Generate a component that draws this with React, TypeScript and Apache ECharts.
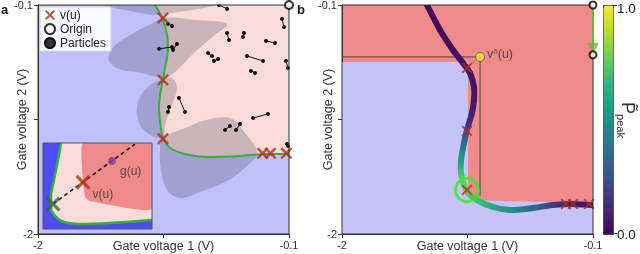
import React, { useEffect, useRef } from 'react';
import * as echarts from 'echarts';

// ---------- axes ----------
const AXIS_MIN = -2;
const AXIS_MAX = -0.1;
const TICK_VALUES = [-2, -1.05, -0.1];
const LABEL_VALUES = [-2, -0.1];
const LABEL_TEXT = ['-2', '-0.1'];

// ---------- panel a ----------
const BOUNDARY_A = [
  [-1.114, -0.1], [-1.061, -0.207], [-1.023, -0.348], [-1.016, -0.473], [-1.039, -0.622],
  [-1.054, -0.722], [-1.076, -0.846], [-1.084, -0.954], [-1.076, -1.07], [-1.054, -1.203],
  [-1.001, -1.286], [-0.887, -1.336], [-0.721, -1.361], [-0.471, -1.353], [-0.266, -1.336],
  [-0.1, -1.336],
];
const BLOB_1 = [[-1.493, -0.1], [-1.304, -0.149], [-1.114, -0.182], [-0.925, -0.157], [-0.66, -0.1]];
const BLOB_2 = [
  [-1.054, -0.207], [-0.812, -0.224], [-0.569, -0.257], [-0.66, -0.348], [-0.812, -0.489],
  [-0.963, -0.655], [-1.054, -0.705], [-1.228, -0.66], [-1.39, -0.63], [-1.465, -0.556],
  [-1.43, -0.45], [-1.304, -0.35], [-1.152, -0.262],
];
const BLOB_3 = [
  [-1.054, -0.722], [-0.986, -0.705], [-0.948, -0.788], [-0.986, -0.929], [-1.039, -1.095],
  [-1.054, -1.203], [-1.152, -1.178], [-1.228, -1.095], [-1.251, -0.954], [-1.205, -0.821],
  [-1.114, -0.738],
];
const BLOB_4 = [
  [-1.054, -1.203], [-0.887, -1.12], [-0.698, -1.045], [-0.531, -1.045], [-0.433, -1.162],
  [-0.342, -1.328], [-0.433, -1.452], [-0.584, -1.568], [-0.774, -1.651], [-0.925, -1.701],
  [-1.023, -1.635], [-1.069, -1.469], [-1.076, -1.303],
];
const CROSSES_A = [[-1.054, -0.207], [-1.054, -0.722], [-1.054, -1.21], [-0.3, -1.33], [-0.24, -1.33], [-0.12, -1.33]];
const ORIGIN_A = [[-0.1, -0.1]];
const PARTICLES = [
  [[-0.63, -0.1], [-0.569, -0.132]],
  [[-1.016, -0.257], [-0.986, -0.274]],
  [[-1.084, -0.464], [-0.986, -0.448]],
  [[-0.978, -0.473], [-0.948, -0.423]],
  [[-0.569, -0.332], [-0.554, -0.39]],
  [[-0.441, -0.332], [-0.448, -0.365]],
  [[-0.153, -0.215], [-0.138, -0.282]],
  [[-0.274, -0.398], [-0.206, -0.415]],
  [[-0.713, -0.498], [-0.683, -0.523]],
  [[-0.668, -0.564], [-0.637, -0.548]],
  [[-0.418, -0.523], [-0.297, -0.564]],
  [[-0.388, -0.647], [-0.357, -0.664]],
  [[-0.123, -0.564], [-0.108, -0.622]],
  [[-0.933, -0.871], [-0.887, -0.987]],
  [[-1.008, -0.946], [-1.016, -0.987]],
  [[-0.372, -1.037], [-0.259, -1.004]],
  [[-0.584, -1.137], [-0.547, -1.104]],
  [[-0.501, -1.137], [-0.471, -1.087]],
  [[-0.115, -1.253], [-0.108, -1.27]],
];

// ---------- inset (schematic, unit square) ----------
const INSET_BOUNDARY = [
  [0.165, 1], [0.138, 0.802], [0.101, 0.57], [0.073, 0.372], [0.073, 0.244], [0.119, 0.14],
  [0.193, 0.081], [0.339, 0.058], [0.615, 0.07], [1, 0.105],
];
const INSET_RED = [[0.367, 1], [1, 1], [1, 0.233], [0.431, 0.326], [0.385, 0.372], [0.376, 0.453]];
const INSET_RAY = [[0.092, 0.291], [0.844, 0.988]];
const INSET_V = [[0.367, 0.545]];
const INSET_START = [[0.092, 0.291]];
const INSET_G = [[0.633, 0.79]];

// ---------- panel b ----------
const BLUE_B = [
  [-2, -0.572], [-1.046, -0.572], [-1.046, -1.676], [-1.016, -1.718], [-0.804, -1.726],
  [-0.35, -1.734], [-0.1, -1.726], [-0.1, -2], [-2, -2],
];
const GUIDE_B = [[-2, -0.531], [-0.955, -0.531], [-0.955, -1.685]];
// [gate1, gate2, normalised peak]
const PATH_B = [
  [-1.357, -0.1, 0.02], [-1.258, -0.307, 0.02], [-1.16, -0.473, 0.03], [-1.084, -0.581, 0.04],
  [-1.031, -0.664, 0.05], [-1.001, -0.78, 0.05], [-1.001, -0.888, 0.06], [-1.016, -0.996, 0.08],
  [-1.054, -1.137, 0.2], [-1.076, -1.245, 0.33], [-1.099, -1.386, 0.55], [-1.099, -1.494, 0.7],
  [-1.076, -1.593, 0.78], [-1.046, -1.66, 0.75], [-0.978, -1.718, 0.7], [-0.857, -1.776, 0.6],
  [-0.728, -1.801, 0.5], [-0.554, -1.784, 0.33], [-0.403, -1.759, 0.18], [-0.274, -1.751, 0.08],
  [-0.1, -1.759, 0.05],
];
const CROSSES_B = [[-1.054, -0.622], [-1.054, -1.145], [-1.054, -1.635], [-0.304, -1.751], [-0.251, -1.751], [-0.13, -1.751]];
const SELECTED_B = [[-1.054, -1.635]];
const V_DELTA = [[-0.955, -0.531]];
const V_DELTA_LINK = [[-0.955, -0.531], [-1.05, -0.615]];
const ORIGINS_B = [[-0.1, -0.1], [-0.1, -0.514]];
const SHIFT_B = [[-0.1, -0.124], [-0.1, -0.492]];

const VIRIDIS = ['#440154', '#482878', '#3e4989', '#31688e', '#26828e', '#1f9e89', '#35b779', '#6ece58', '#b5de2b', '#fde725'];

const FONT = 'Liberation Sans, Arial, Helvetica, sans-serif';
const CROSS = 'path://M0,1.5L1.5,0L5,3.5L8.5,0L10,1.5L6.5,5L10,8.5L8.5,10L5,6.5L1.5,10L0,8.5L3.5,5Z';
const CROSS_THIN = 'path://M0,1.2L1.2,0L5,3.8L8.8,0L10,1.2L6.2,5L10,8.8L8.8,10L5,6.2L1.2,10L0,8.8L3.8,5Z';
const ARROW_HEAD = 'path://M0,0L10,0L5,10Z';
const CROSS_RED = '#b0301c';

function polygon(name: string, pts: number[][], grid: number, fill: string, z: number, smooth = 0, stroke?: string) {
  return {
    type: 'custom', name, xAxisIndex: grid, yAxisIndex: grid, z, silent: true, clip: true,
    data: pts,
    renderItem: (params: any, api: any) => {
      if (params.dataIndex !== 0) return null;
      return {
        type: 'polygon',
        shape: { points: pts.map((p) => api.coord(p)), smooth },
        style: { fill, stroke: stroke || 'none', lineWidth: 1 },
      };
    },
  };
}

function frame(name: string, grid: number, corners: number[][], z: number, color = '#333') {
  return {
    type: 'custom', name, xAxisIndex: grid, yAxisIndex: grid, z, silent: true, clip: false,
    data: corners,
    renderItem: (params: any, api: any) => {
      if (params.dataIndex !== 0) return null;
      const a = api.coord(corners[0]);
      const b = api.coord(corners[1]);
      return {
        type: 'rect',
        shape: { x: a[0], y: a[1], width: b[0] - a[0], height: b[1] - a[1] },
        style: { fill: 'none', stroke: color, lineWidth: 1 },
      };
    },
  };
}

function axes(grid: number, isX: boolean) {
  return {
    gridIndex: grid, type: 'value', min: AXIS_MIN, max: AXIS_MAX,
    name: isX ? 'Gate voltage 1 (V)' : 'Gate voltage 2 (V)',
    nameLocation: 'middle',
    nameMoveOverlap: false,
    nameGap: isX ? 5 : grid === 0 ? 10 : 8,
    nameTextStyle: { fontSize: 12.5, color: '#333', fontFamily: FONT },
    axisLine: { show: true, onZero: false, lineStyle: { color: '#333', width: 1 } },
    axisTick: { show: true, length: 4, customValues: TICK_VALUES, lineStyle: { color: '#333' } },
    axisLabel: {
      customValues: LABEL_VALUES, fontSize: 11, color: '#333', margin: 5, fontFamily: FONT,
      showMinLabel: true, showMaxLabel: true,
      formatter: (v: number) => {
        const i = LABEL_VALUES.findIndex((l) => Math.abs(l - v) < 1e-6);
        return i >= 0 ? LABEL_TEXT[i] : '';
      },
    },
    splitLine: { show: false },
  };
}

function buildOption() {
  const series: any[] = [
    // ---- panel a ----
    polygon('region a', [...BOUNDARY_A, [-0.1, -0.1]], 0, '#f8dcd9', 1),
    polygon('blob 1', BLOB_1, 0, 'rgba(60,60,80,0.24)', 2, 0.35),
    polygon('blob 2', BLOB_2, 0, 'rgba(60,60,80,0.24)', 2, 0.35),
    polygon('blob 3', BLOB_3, 0, 'rgba(60,60,80,0.24)', 2, 0.35),
    polygon('blob 4', BLOB_4, 0, 'rgba(60,60,80,0.24)', 2, 0.35),
    {
      type: 'line', name: 'boundary a', xAxisIndex: 0, yAxisIndex: 0, z: 3, data: BOUNDARY_A,
      smooth: 0.3, symbol: 'none', silent: true, lineStyle: { color: '#3aae3a', width: 2 },
    },
    {
      type: 'lines', name: 'Particles', coordinateSystem: 'cartesian2d', xAxisIndex: 0, yAxisIndex: 0, z: 4,
      symbol: ['circle', 'circle'], symbolSize: 4, silent: true,
      lineStyle: { color: '#111', width: 1, opacity: 1 },
      itemStyle: { color: '#111' },
      data: PARTICLES.map((c) => ({ coords: c })),
    },
    {
      type: 'scatter', name: 'v(u)', xAxisIndex: 0, yAxisIndex: 0, z: 5, data: CROSSES_A,
      symbol: CROSS, symbolSize: 12, itemStyle: { color: CROSS_RED }, clip: false,
    },
    {
      type: 'scatter', name: 'Origin', xAxisIndex: 0, yAxisIndex: 0, z: 12, data: ORIGIN_A,
      symbol: 'circle', symbolSize: 8, clip: false,
      itemStyle: { color: '#fff', borderColor: '#000', borderWidth: 2 },
    },
    // ---- inset ----
    polygon('inset bg', [[0, 0], [1, 0], [1, 1], [0, 1]], 2, '#4e4ef0', 6),
    polygon('inset region', [...INSET_BOUNDARY, [1, 1]], 2, '#f8dcd9', 7),
    polygon('inset red', INSET_RED, 2, '#f08a8a', 7, 0.15),
    {
      type: 'line', name: 'inset boundary', xAxisIndex: 2, yAxisIndex: 2, z: 8, data: INSET_BOUNDARY,
      smooth: 0.3, symbol: 'none', silent: true, lineStyle: { color: '#3aae3a', width: 2.5 },
    },
    {
      type: 'line', name: 'inset ray', xAxisIndex: 2, yAxisIndex: 2, z: 8, data: INSET_RAY,
      symbol: 'none', silent: true, lineStyle: { color: '#111', width: 1.5, type: [4, 3] },
    },
    {
      type: 'scatter', name: 'inset g', xAxisIndex: 2, yAxisIndex: 2, z: 9, data: INSET_G,
      symbol: 'circle', symbolSize: 8, itemStyle: { color: '#7a3c96' },
      label: { show: true, formatter: 'g(u)', position: 'right', distance: 4, offset: [0, 10], fontSize: 12, color: '#333', fontFamily: FONT },
    },
    {
      type: 'scatter', name: 'inset v', xAxisIndex: 2, yAxisIndex: 2, z: 9, data: INSET_V,
      symbol: CROSS, symbolSize: 15, itemStyle: { color: CROSS_RED },
      label: { show: true, formatter: 'v(u)', position: 'right', distance: 2, offset: [0, 12], fontSize: 12, color: '#333', fontFamily: FONT },
    },
    {
      type: 'scatter', name: 'inset start', xAxisIndex: 2, yAxisIndex: 2, z: 9, data: INSET_START,
      symbol: CROSS, symbolSize: 15, itemStyle: { color: '#2d6a2d' }, clip: false,
    },
    frame('inset frame', 2, [[0, 1], [1, 0]], 10, '#556'),
    frame('frame a', 0, [[AXIS_MIN, AXIS_MAX], [AXIS_MAX, AXIS_MIN]], 11),
    // ---- panel b ----
    polygon('blue b', BLUE_B, 1, '#c4c4f8', 1),
    {
      type: 'line', name: 'guide b', xAxisIndex: 1, yAxisIndex: 1, z: 2, data: GUIDE_B,
      symbol: 'none', silent: true, lineStyle: { color: '#444', width: 1 },
    },
    {
      type: 'custom', name: 'peak path', xAxisIndex: 1, yAxisIndex: 1, z: 3, clip: true, silent: true,
      data: PATH_B, dimensions: ['x', 'y', 'p'], encode: { x: 0, y: 1 },
      renderItem: (params: any, api: any) => {
        const i = params.dataIndex;
        const n = PATH_B.length;
        if (i >= n - 1) return null;
        const P = (k: number) => {
          const kk = Math.max(0, Math.min(n - 1, k));
          return api.coord([PATH_B[kk][0], PATH_B[kk][1]]);
        };
        const p0 = P(i - 1), p1 = P(i), p2 = P(i + 1), p3 = P(i + 2);
        const t = 1 / 6;
        const c1 = echarts.color.lerp(PATH_B[i][2], VIRIDIS) as string;
        const c2 = echarts.color.lerp(PATH_B[i + 1][2], VIRIDIS) as string;
        return {
          type: 'bezierCurve',
          shape: {
            x1: p1[0], y1: p1[1], x2: p2[0], y2: p2[1],
            cpx1: p1[0] + (p2[0] - p0[0]) * t, cpy1: p1[1] + (p2[1] - p0[1]) * t,
            cpx2: p2[0] - (p3[0] - p1[0]) * t, cpy2: p2[1] - (p3[1] - p1[1]) * t,
          },
          style: {
            fill: 'none', lineWidth: 6, lineCap: 'round',
            stroke: {
              type: 'linear', x: p1[0], y: p1[1], x2: p2[0] + 0.01, y2: p2[1] + 0.01, global: true,
              colorStops: [{ offset: 0, color: c1 }, { offset: 1, color: c2 }],
            },
          },
        };
      },
    },
    {
      type: 'line', name: 'v delta link', xAxisIndex: 1, yAxisIndex: 1, z: 4, data: V_DELTA_LINK,
      symbol: 'none', silent: true, lineStyle: { color: '#555', width: 1, type: 'dotted' },
    },
    {
      type: 'scatter', name: 'v(u) b', xAxisIndex: 1, yAxisIndex: 1, z: 5, data: CROSSES_B,
      symbol: CROSS_THIN, symbolSize: 11, itemStyle: { color: CROSS_RED }, clip: false,
    },
    {
      type: 'scatter', name: 'selected', xAxisIndex: 1, yAxisIndex: 1, z: 5, data: SELECTED_B,
      symbol: 'circle', symbolSize: 23, clip: false,
      itemStyle: { color: 'rgba(0,0,0,0)', borderColor: '#33ee22', borderWidth: 3 },
    },
    {
      type: 'scatter', name: 'v delta', xAxisIndex: 1, yAxisIndex: 1, z: 6, data: V_DELTA,
      symbol: 'circle', symbolSize: 9, clip: false,
      itemStyle: { color: '#f2e32a', borderColor: '#555', borderWidth: 1 },
      label: {
        show: true, position: 'right', distance: 2, offset: [0, -3],
        formatter: '{a|v}{b|δ}{a|(u)}',
        rich: {
          a: { fontSize: 12.5, color: '#333', fontFamily: FONT },
          b: { fontSize: 8, color: '#333', fontFamily: FONT, verticalAlign: 'top' },
        },
      },
    },
    {
      type: 'line', name: 'shift', xAxisIndex: 1, yAxisIndex: 1, z: 12, data: SHIFT_B,
      symbol: 'none', silent: true, clip: false,
      lineStyle: { color: '#6db33f', width: 2 },
    },
    {
      type: 'scatter', name: 'shift head', xAxisIndex: 1, yAxisIndex: 1, z: 12, data: [SHIFT_B[1]],
      symbol: ARROW_HEAD, symbolSize: [12, 11], symbolOffset: [0, -4], clip: false, silent: true,
      itemStyle: { color: '#6db33f' },
    },
    {
      type: 'scatter', name: 'origins b', xAxisIndex: 1, yAxisIndex: 1, z: 13, data: ORIGINS_B,
      symbol: 'circle', symbolSize: 7, clip: false,
      itemStyle: { color: '#fff', borderColor: '#000', borderWidth: 2 },
    },
    frame('frame b', 1, [[AXIS_MIN, AXIS_MAX], [AXIS_MAX, AXIS_MIN]], 11),
  ];

  const pathIndex = series.findIndex((s) => s.name === 'peak path');

  return {
    animation: false,
    textStyle: { fontFamily: FONT },
    grid: [
      { left: 38, top: 5, width: 251, height: 229, show: true, backgroundColor: '#c0c0fa', borderWidth: 0, outerBoundsMode: 'none', containLabel: false },
      { left: 342, top: 5, width: 251, height: 229, show: true, backgroundColor: '#f08b8b', borderWidth: 0, outerBoundsMode: 'none', containLabel: false },
      { left: 43, top: 143, width: 109, height: 86, show: false, outerBoundsMode: 'none', containLabel: false },
    ],
    xAxis: [axes(0, true), axes(1, true), { gridIndex: 2, type: 'value', min: 0, max: 1, show: false }],
    yAxis: [axes(0, false), axes(1, false), { gridIndex: 2, type: 'value', min: 0, max: 1, show: false }],
    legend: {
      left: 40, top: 7, orient: 'vertical', itemGap: 2, itemWidth: 10, itemHeight: 10,
      padding: [2, 5, 2, 4], backgroundColor: 'rgba(255,255,255,0.88)', borderColor: '#d8d8d8', borderWidth: 1,
      selectedMode: false, z: 20,
      textStyle: { fontSize: 12, color: '#222', fontFamily: FONT },
      data: [
        { name: 'v(u)', icon: CROSS, itemStyle: { color: CROSS_RED } },
        { name: 'Origin', icon: 'circle', itemStyle: { color: '#fff', borderColor: '#000', borderWidth: 2 } },
        { name: 'Particles', icon: 'circle', itemStyle: { color: '#333' } },
      ],
    },
    visualMap: {
      type: 'continuous', min: 0, max: 1, dimension: 2, seriesIndex: [pathIndex],
      inRange: { color: VIRIDIS }, orient: 'vertical', left: 603, top: 5,
      itemWidth: 10, itemHeight: 229, calculable: false, hoverLink: false,
      padding: 0, borderColor: '#333', borderWidth: 1, text: null,
    },
    graphic: [
      { type: 'text', left: 1, top: 3, style: { text: 'a', font: `bold 13px ${FONT}`, fill: '#111' } },
      { type: 'text', left: 297, top: 3, style: { text: 'b', font: `bold 13px ${FONT}`, fill: '#111' } },
      { type: 'line', shape: { x1: 613, y1: 5.5, x2: 617, y2: 5.5 }, style: { stroke: '#333', lineWidth: 1 } },
      { type: 'line', shape: { x1: 613, y1: 233.5, x2: 617, y2: 233.5 }, style: { stroke: '#333', lineWidth: 1 } },
      { type: 'text', x: 617, y: 8, style: { text: '1.0', font: `13.5px ${FONT}`, fill: '#222', textAlign: 'left', textVerticalAlign: 'middle' } },
      { type: 'text', x: 617, y: 234, style: { text: '0.0', font: `13.5px ${FONT}`, fill: '#222', textAlign: 'left', textVerticalAlign: 'middle' } },
      {
        type: 'text', x: 626, y: 120, rotation: -Math.PI / 2,
        style: {
          text: '{a|P\u0303}{b|peak}', textAlign: 'center', textVerticalAlign: 'middle', fill: '#333',
          rich: {
            a: { fontSize: 18, fontFamily: FONT, padding: [0, 0, 4, 0] },
            b: { fontSize: 11, fontFamily: FONT, verticalAlign: 'bottom' },
          },
        },
      },
    ],
    series,
  };
}

export default function App() {
  const ref = useRef<HTMLDivElement>(null);
  useEffect(() => {
    if (!ref.current) return;
    const chart = echarts.init(ref.current, null, { renderer: 'svg' });
    chart.setOption(buildOption() as any);
    return () => chart.dispose();
  }, []);
  return <div ref={ref} style={{ position: 'fixed', left: 0, top: 0, width: 640, height: 254 }} />;
}
